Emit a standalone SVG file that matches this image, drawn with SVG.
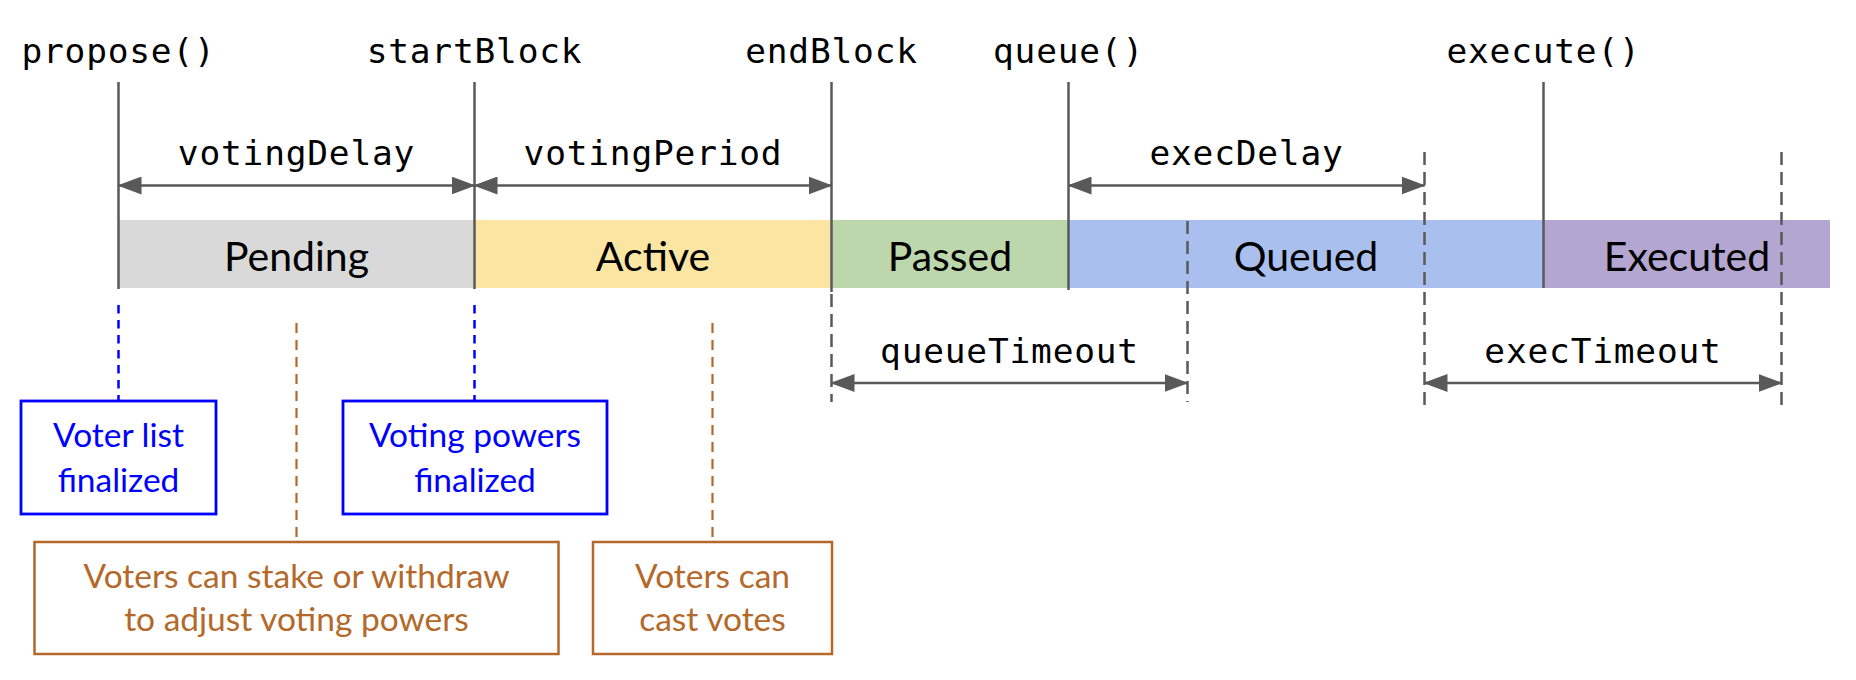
<svg xmlns="http://www.w3.org/2000/svg" width="1856" height="680" viewBox="0 0 1856 680">
<style>
.mono{font-family:"DejaVu Sans Mono","Liberation Mono",monospace;font-size:34.5px;letter-spacing:0.8px;fill:#000;text-anchor:middle}
.bar{font-family:Lato,"Liberation Sans",sans-serif;font-size:41px;fill:#000;text-anchor:middle}
.note{font-family:Lato,"Liberation Sans",sans-serif;font-size:33.5px;text-anchor:middle}
.solid{stroke:#595959;stroke-width:2.5;fill:none}
.gdash{stroke:#595959;stroke-width:2.5;fill:none;stroke-dasharray:13 7}
.bdash{stroke:#0000FF;stroke-width:2.5;fill:none;stroke-dasharray:8.5 6.5}
.odash{stroke:#B4692A;stroke-width:2.2;fill:none;stroke-dasharray:10 7}
.arr{stroke:#595959;stroke-width:2.5;fill:none;marker-start:url(#ah);marker-end:url(#ah)}
.bbox{fill:#fff;stroke:#0000FF;stroke-width:2.8}
.obox{fill:#fff;stroke:#B4692A;stroke-width:2.5}
</style>
<defs>
<marker id="ah" markerUnits="userSpaceOnUse" markerWidth="24" markerHeight="18" refX="23" refY="9" orient="auto-start-reverse">
<path d="M0,0 L24,9 L0,18 Z" fill="#595959"/>
</marker>
</defs>
<rect width="1856" height="680" fill="#fff"/>

<g id="bars">
<g id="pending"><rect x="118.5" y="220" width="356" height="68" fill="#D9D9D9"/><text class="bar" x="296.5" y="271">Pending</text></g>
<g id="active"><rect x="474.5" y="220" width="357" height="68" fill="#FAE5A2"/><text class="bar" x="653" y="271">Active</text></g>
<g id="passed"><rect x="831.5" y="220" width="237" height="68" fill="#BCD7AC"/><text class="bar" x="950" y="271">Passed</text></g>
<g id="queued"><rect x="1068.5" y="220" width="475" height="68" fill="#A9C0EE"/><text class="bar" x="1306" y="271">Queued</text></g>
<g id="executed"><rect x="1543.5" y="220" width="286.5" height="68" fill="#B3A6D1"/><text class="bar" x="1687" y="271">Executed</text></g>
</g>

<g id="markers-top">
<g id="propose"><text class="mono" x="118.5" y="63">propose()</text></g>
<g id="startBlock"><text class="mono" x="474.5" y="63">startBlock</text></g>
<g id="endBlock"><text class="mono" x="831.5" y="63">endBlock</text></g>
<g id="queue"><text class="mono" x="1068.5" y="63">queue()</text></g>
<g id="execute"><text class="mono" x="1543.5" y="63">execute()</text></g>
</g>

<g id="connectors">
<line class="solid" x1="118.5" y1="82" x2="118.5" y2="289"/>
<line class="solid" x1="474.5" y1="82" x2="474.5" y2="289"/>
<line class="solid" x1="831.5" y1="82" x2="831.5" y2="292"/>
<line class="solid" x1="1068.5" y1="82" x2="1068.5" y2="290"/>
<line class="solid" x1="1543.5" y1="82" x2="1543.5" y2="288"/>

<line class="gdash" x1="831.5" y1="294" x2="831.5" y2="402"/>
<line class="gdash" x1="1187.5" y1="221" x2="1187.5" y2="402"/>
<line class="gdash" x1="1424.5" y1="152" x2="1424.5" y2="407"/>
<line class="gdash" x1="1781.5" y1="152" x2="1781.5" y2="407"/>

<line class="arr" x1="118.5" y1="185.5" x2="474.5" y2="185.5"/>
<line class="arr" x1="474.5" y1="185.5" x2="831.5" y2="185.5"/>
<line class="arr" x1="1068.5" y1="185.5" x2="1424.5" y2="185.5"/>
<line class="arr" x1="831.5" y1="383" x2="1187.5" y2="383"/>
<line class="arr" x1="1424.5" y1="383" x2="1781.5" y2="383"/>

<line class="bdash" x1="118.5" y1="305" x2="118.5" y2="401"/>
<line class="bdash" x1="474.5" y1="305" x2="474.5" y2="401"/>
<line class="odash" x1="296.5" y1="323" x2="296.5" y2="542"/>
<line class="odash" x1="712.5" y1="323" x2="712.5" y2="542"/>
</g>

<g id="interval-labels">
<text class="mono" x="296.5" y="165">votingDelay</text>
<text class="mono" x="653" y="165">votingPeriod</text>
<text class="mono" x="1246.5" y="165">execDelay</text>
<text class="mono" x="1009.5" y="363">queueTimeout</text>
<text class="mono" x="1603" y="363">execTimeout</text>
</g>

<g id="voter-list-finalized">
<rect class="bbox" x="21" y="401" width="195" height="113"/>
<text class="note" fill="#0000FF" x="118.5" y="447">Voter list</text>
<text class="note" fill="#0000FF" x="118.5" y="492">finalized</text>
</g>
<g id="voting-powers-finalized">
<rect class="bbox" x="343" y="401" width="264" height="113"/>
<text class="note" fill="#0000FF" x="475" y="447">Voting powers</text>
<text class="note" fill="#0000FF" x="475" y="492">finalized</text>
</g>
<g id="stake-withdraw">
<rect class="obox" x="34.5" y="542" width="524" height="112"/>
<text class="note" fill="#B4692A" x="296.5" y="588">Voters can stake or withdraw</text>
<text class="note" fill="#B4692A" x="296.5" y="631">to adjust voting powers</text>
</g>
<g id="cast-votes">
<rect class="obox" x="593" y="542" width="239" height="112"/>
<text class="note" fill="#B4692A" x="712.5" y="588">Voters can</text>
<text class="note" fill="#B4692A" x="712.5" y="631">cast votes</text>
</g>
</svg>
